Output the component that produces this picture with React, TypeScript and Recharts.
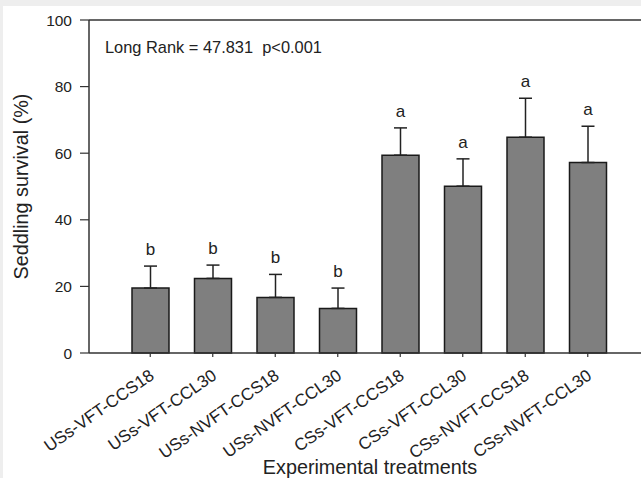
import React from "react";
import {
  BarChart,
  Bar,
  XAxis,
  YAxis,
  ErrorBar,
  LabelList,
  ReferenceLine,
  Label,
} from "recharts";

const treatments = [
  "USs-VFT-CCS18",
  "USs-VFT-CCL30",
  "USs-NVFT-CCS18",
  "USs-NVFT-CCL30",
  "CSs-VFT-CCS18",
  "CSs-VFT-CCL30",
  "CSs-NVFT-CCS18",
  "CSs-NVFT-CCL30",
];
const survival = [19.5, 22.4, 16.7, 13.4, 59.4, 50.1, 64.8, 57.2];
const upperError = [6.6, 4.0, 6.9, 6.1, 8.2, 8.2, 11.7, 10.9];
const letters = ["b", "b", "b", "b", "a", "a", "a", "a"];
const yTicks = [0, 20, 40, 60, 80, 100];

const data = treatments.map((name, i) => ({
  name,
  survival: survival[i],
  err: [0, upperError[i]],
  letter: letters[i],
}));

const FONT = "'Liberation Sans', Arial, sans-serif";
const INK = "#222";

const XTick = (props: any) => {
  const { x, y, payload } = props;
  return (
    <g transform={`translate(${x + 5},${y + 19}) rotate(-35)`}>
      <text textAnchor="end" fontSize={17} fontFamily={FONT} fill={INK}>
        {payload.value}
      </text>
    </g>
  );
};

const LetterLabel = (props: any) => {
  const { x, y, width, height, index } = props;
  const v = survival[index];
  const pxPerUnit = v ? height / v : 0;
  const top = y - upperError[index] * pxPerUnit;
  return (
    <text
      x={x + width / 2}
      y={top - 11}
      textAnchor="middle"
      fontSize={17}
      fontFamily={FONT}
      fill={INK}
    >
      {letters[index]}
    </text>
  );
};

export default function App() {
  return (
    <div
      style={{
        position: "absolute",
        left: 0,
        top: 0,
        width: 641,
        height: 478,
        background: "#eeeeee",
        overflow: "hidden",
      }}
    >
      <div
        style={{
          position: "absolute",
          left: 3,
          top: 6,
          right: 0,
          bottom: 0,
          background: "#ffffff",
        }}
      />
      <div style={{ position: "absolute", left: 0, top: 0 }}>
        <BarChart
          width={700}
          height={478}
          data={data}
          margin={{ top: 20, right: 49, bottom: 25, left: 0 }}
        >
          <XAxis
            dataKey="name"
            interval={0}
            height={100}
            padding={{ left: 30, right: 32 }}
            tickSize={4}
            tickMargin={2}
            tick={<XTick />}
            axisLine={{ stroke: "#333", strokeWidth: 1.5 }}
            tickLine={{ stroke: "#333", strokeWidth: 1.2 }}
          >
            <Label
              content={(p: any) => {
                const vb = p.viewBox;
                return (
                  <text
                    x={vb.x + vb.width / 2}
                    y={vb.y + 121}
                    textAnchor="middle"
                    fontSize={19.8}
                    fontFamily={FONT}
                    fill={INK}
                  >
                    Experimental treatments
                  </text>
                );
              }}
            />
          </XAxis>
          <YAxis
            domain={[0, 100]}
            ticks={yTicks}
            width={89}
            tickSize={9}
            tickMargin={8}
            tick={{ fontSize: 15.5, fontFamily: FONT, fill: INK }}
            axisLine={{ stroke: "#333", strokeWidth: 1.5 }}
            tickLine={{ stroke: "#333", strokeWidth: 1.2 }}
          >
            <Label
              content={(p: any) => {
                const vb = p.viewBox;
                const cx = vb.x + 21;
                const cy = vb.y + vb.height / 2;
                return (
                  <text
                    x={cx}
                    y={cy}
                    transform={`rotate(-90, ${cx}, ${cy})`}
                    textAnchor="middle"
                    dominantBaseline="central"
                    fontSize={19.8}
                    fontFamily={FONT}
                    fill={INK}
                  >
                    Seddling survival (%)
                  </text>
                );
              }}
            />
          </YAxis>
          <ReferenceLine y={100} stroke="#333" strokeWidth={1.5}>
            <Label
              content={(p: any) => {
                const vb = p.viewBox;
                return (
                  <text
                    x={vb.x + 16}
                    y={vb.y + 33}
                    fontSize={16.4}
                    fontFamily={FONT}
                    fill={INK}
                  >
                    Long Rank = 47.831{"\u00a0\u00a0"}p&lt;0.001
                  </text>
                );
              }}
            />
          </ReferenceLine>
          <Bar
            dataKey="survival"
            barSize={37}
            fill="#7f7f7f"
            stroke="#1a1a1a"
            strokeWidth={1.5}
            isAnimationActive={false}
          >
            <ErrorBar
              dataKey="err"
              width={6.5}
              stroke={INK}
              strokeWidth={1.5}
              direction="y"
            />
            <LabelList dataKey="letter" content={<LetterLabel />} />
          </Bar>
        </BarChart>
      </div>
    </div>
  );
}
